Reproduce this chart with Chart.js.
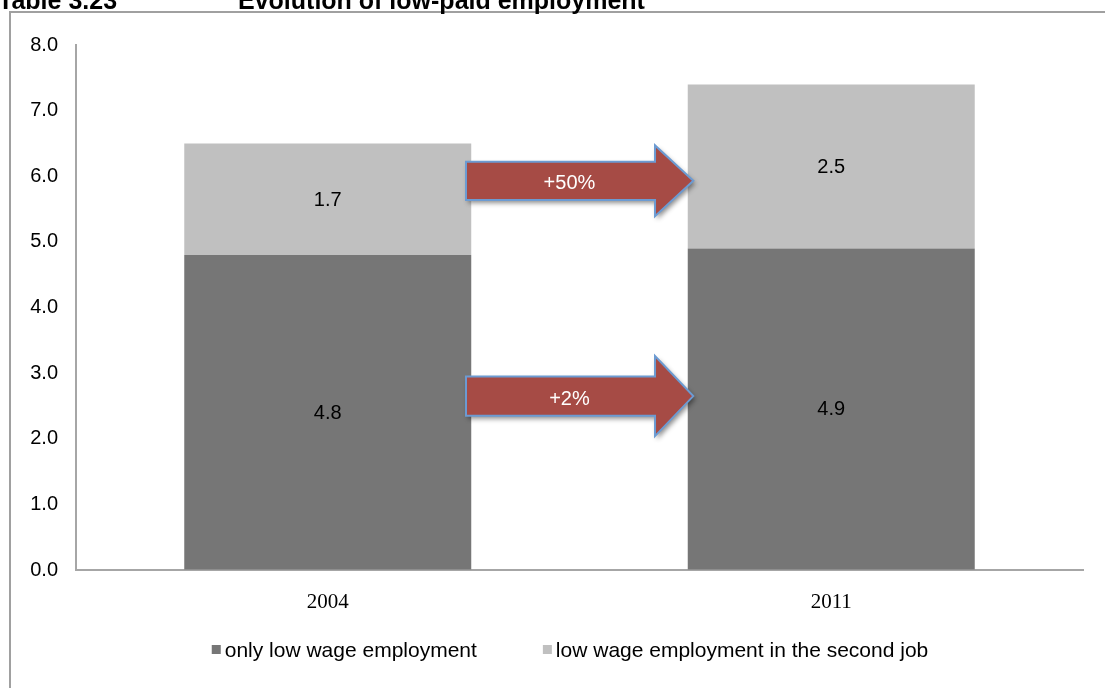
<!DOCTYPE html>
<html>
<head>
<meta charset="utf-8">
<script src="https://cdn.jsdelivr.net/npm/chart.js@4/dist/chart.umd.min.js"></script>
<style>
html,body{margin:0;padding:0;background:#fff;}
#wrap{position:relative;width:1105px;height:688px;overflow:hidden;}
canvas{display:block;}
</style>
</head>
<body>
<div id="wrap"><canvas id="c" width="1105" height="688"></canvas></div>
<script>
// ---- data ----
const categories = ['2004', '2011'];
const onlyLowWage = [4.8, 4.9];
const secondJobLowWage = [1.7, 2.5];
const seriesNames = ['only low wage employment', 'low wage employment in the second job'];
const yTickValues = [0, 1, 2, 3, 4, 5, 6, 7, 8];
const titleLeft = 'Table 3.23';
const titleMain = 'Evolution of low-paid employment';
// arrow annotations (in category / value units)
const arrowLabels = ['+50%', '+2%'];
const arrowCenterValues = [5.93, 2.65];

const SANS = '"Liberation Sans", Arial, sans-serif';
const SERIF = '"Liberation Serif", "Times New Roman", serif';
const COL_DARK = '#767676';
const COL_LIGHT = '#c0c0c0';
const AXIS_COL = '#a6a6a6';

const framePlugin = {
  id: 'frame',
  beforeDraw(chart) {
    const ctx = chart.ctx;
    ctx.save();
    ctx.fillStyle = '#fff';
    ctx.fillRect(0, 0, chart.width, chart.height);
    ctx.strokeStyle = '#a0a0a0';
    ctx.lineWidth = 2;
    ctx.strokeRect(10, 12, chart.width + 20, chart.height + 20);
    ctx.fillStyle = '#000';
    ctx.font = 'bold 25px ' + SANS;
    ctx.textBaseline = 'alphabetic';
    ctx.textAlign = 'left';
    ctx.fillText(titleLeft, -2, 9);
    ctx.fillText(titleMain, 238, 9);
    ctx.restore();
  }
};

const labelPlugin = {
  id: 'barLabels',
  afterDatasetsDraw(chart) {
    const ctx = chart.ctx;
    ctx.save();
    ctx.fillStyle = '#000';
    ctx.font = '20px ' + SANS;
    ctx.textAlign = 'center';
    ctx.textBaseline = 'middle';
    chart.data.datasets.forEach((ds, di) => {
      chart.getDatasetMeta(di).data.forEach((bar, i) => {
        const p = bar.getProps(['x', 'y', 'base'], true);
        ctx.fillText(ds.data[i].toFixed(1), p.x, (p.y + p.base) / 2 + 1);
      });
    });
    ctx.restore();
  }
};

const arrowPlugin = {
  id: 'arrows',
  afterDraw(chart) {
    const ctx = chart.ctx;
    const xs = chart.scales.x, ys = chart.scales.y;
    const x0 = xs.getPixelForValue(0.2746);
    const xh = xs.getPixelForValue(0.650);
    const xt = xs.getPixelForValue(0.726);
    const xText = xs.getPixelForValue(0.48);
    const bodyHalf = [0.29, 0.30];
    const headHalf = [0.54, 0.61];
    arrowCenterValues.forEach((v, i) => {
      const yc = ys.getPixelForValue(v);
      const yb1 = ys.getPixelForValue(v + bodyHalf[i]);
      const yb2 = ys.getPixelForValue(v - bodyHalf[i]);
      const yh1 = ys.getPixelForValue(v + headHalf[i]);
      const yh2 = ys.getPixelForValue(v - headHalf[i]);
      ctx.save();
      ctx.beginPath();
      ctx.moveTo(x0, yb1);
      ctx.lineTo(xh, yb1);
      ctx.lineTo(xh, yh1);
      ctx.lineTo(xt, yc);
      ctx.lineTo(xh, yh2);
      ctx.lineTo(xh, yb2);
      ctx.lineTo(x0, yb2);
      ctx.closePath();
      ctx.shadowColor = 'rgba(0,0,0,0.45)';
      ctx.shadowBlur = 5;
      ctx.shadowOffsetX = 2;
      ctx.shadowOffsetY = 3;
      ctx.fillStyle = '#a64b45';
      ctx.fill();
      ctx.shadowColor = 'transparent';
      ctx.lineWidth = 2;
      ctx.strokeStyle = '#6c9bd2';
      ctx.stroke();
      ctx.fillStyle = '#fff';
      ctx.font = '20px ' + SANS;
      ctx.textAlign = 'center';
      ctx.textBaseline = 'middle';
      ctx.fillText(arrowLabels[i], xText, yc + 3);
      ctx.restore();
    });
  }
};

const legendPlugin = {
  id: 'customLegend',
  afterDraw(chart) {
    const ctx = chart.ctx;
    ctx.save();
    ctx.font = '21px ' + SANS;
    const box = 9, gapBox = 4, gapItem = 66;
    const items = chart.data.datasets.map(ds => ({text: ds.label, color: ds.backgroundColor}));
    let total = 0;
    items.forEach((it, i) => {
      it.w = box + gapBox + ctx.measureText(it.text).width;
      total += it.w + (i ? gapItem : 0);
    });
    let x = 570 - total / 2;
    const yc = 650;
    items.forEach(it => {
      ctx.fillStyle = it.color;
      ctx.fillRect(x, yc - 5, box, box);
      ctx.fillStyle = '#000';
      ctx.textAlign = 'left';
      ctx.textBaseline = 'middle';
      ctx.fillText(it.text, x + box + gapBox, yc + 1);
      x += it.w + gapItem;
    });
    ctx.restore();
  }
};

new Chart(document.getElementById('c'), {
  type: 'bar',
  data: {
    labels: categories,
    datasets: [
      {label: seriesNames[0], data: onlyLowWage, backgroundColor: COL_DARK, borderWidth: 0},
      {label: seriesNames[1], data: secondJobLowWage, backgroundColor: COL_LIGHT, borderWidth: 0}
    ]
  },
  options: {
    responsive: false,
    devicePixelRatio: 1,
    animation: false,
    layout: {padding: {top: 45, right: 22, bottom: 0, left: 0}},
    datasets: {bar: {categoryPercentage: 1.0, barPercentage: 0.57}},
    plugins: {legend: {display: false}, tooltip: {enabled: false}, title: {display: false}},
    scales: {
      x: {
        stacked: true,
        grid: {display: true, color: 'transparent', drawTicks: false},
        border: {display: true, color: AXIS_COL, width: 2},
        ticks: {font: {family: SERIF, size: 21}, color: '#000', padding: 20},
        afterFit(s) { s.height = 118; }
      },
      y: {
        stacked: true,
        min: 0, max: 8,
        afterBuildTicks(s) { s.ticks = yTickValues.map(v => ({value: v})); },
        grid: {display: true, color: 'transparent', drawTicks: false},
        border: {display: true, color: AXIS_COL, width: 2},
        ticks: {font: {family: SANS, size: 20}, color: '#000', padding: 18,
                callback: v => Number(v).toFixed(1)},
        afterFit(s) { s.width = 76; }
      }
    }
  },
  plugins: [framePlugin, labelPlugin, arrowPlugin, legendPlugin]
});
</script>
</body>
</html>
